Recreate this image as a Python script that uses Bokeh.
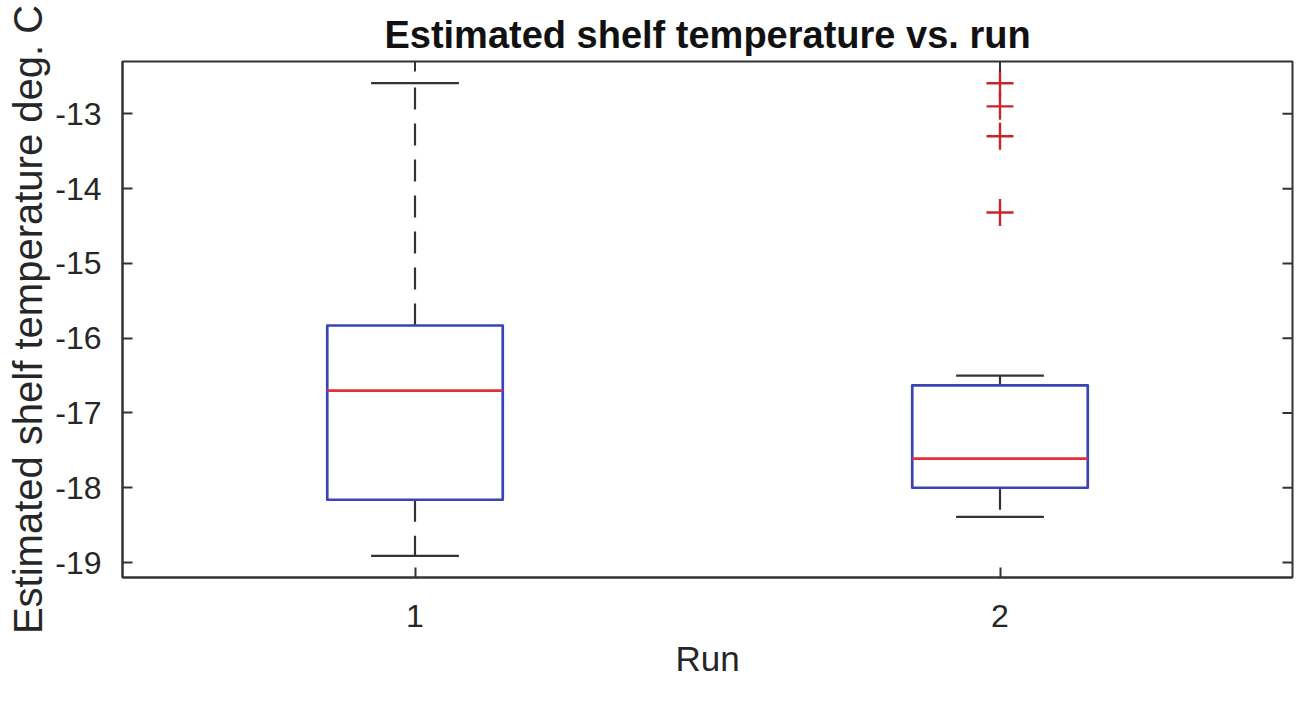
import numpy as np
from bokeh.plotting import figure
from bokeh.models import FixedTicker, ColumnDataSource, PrintfTickFormatter
from bokeh.embed import file_html
from bokeh.resources import INLINE

# Box statistics (deg. C)
runs = [1, 2]
q1 = [-18.16, -18.00]
medians = [-16.70, -17.61]
q3 = [-15.83, -16.63]
whisker_low = [-18.91, -18.39]
whisker_high = [-12.59, -16.50]

outlier_runs = [2, 2, 2, 2]
outlier_vals = [-12.59, -12.90, -13.30, -14.32]

y_ticks = [-19, -18, -17, -16, -15, -14, -13]

X_LIM = (0.5, 2.5)
Y_LIM = (-19.2, -12.3)
BOX_HALF = 0.15
CAP_HALF = 0.075
FONT = "Liberation Sans"
AXIS_COLOR = "#333333"
TEXT_COLOR = "#262626"

x = np.array(runs, dtype=float)
src = ColumnDataSource(data=dict(
    x=x, left=x - BOX_HALF, right=x + BOX_HALF,
    cap_l=x - CAP_HALF, cap_r=x + CAP_HALF,
    q1=q1, q3=q3, med=medians, lo=whisker_low, hi=whisker_high,
))

p = figure(frame_width=1170, frame_height=516, x_range=X_LIM, y_range=Y_LIM,
           output_backend="svg", toolbar_location=None,
           min_border_left=122, min_border_right=3, min_border_top=61, min_border_bottom=112,
           title="Estimated shelf temperature vs. run",
           x_axis_label="Run", y_axis_label="Estimated shelf temperature deg. C")

p.title.align = "center"
p.title.text_font = FONT
p.title.text_font_size = "38px"
p.title.text_font_style = "bold"
p.title.text_color = "#111111"
p.title.standoff = 12

p.grid.visible = False
p.outline_line_color = AXIS_COLOR
p.outline_line_width = 2
p.background_fill_color = "white"
p.border_fill_color = "white"

# whiskers (dashed) and caps
p.segment("x", "q3", "x", "hi", source=src, line_color=AXIS_COLOR, line_width=2.2, line_dash="22 14")
p.segment("x", "q1", "x", "lo", source=src, line_color=AXIS_COLOR, line_width=2.2, line_dash="22 14")
p.segment("cap_l", "hi", "cap_r", "hi", source=src, line_color=AXIS_COLOR, line_width=2.2)
p.segment("cap_l", "lo", "cap_r", "lo", source=src, line_color=AXIS_COLOR, line_width=2.2)

# boxes and medians
p.quad(left="left", right="right", bottom="q1", top="q3", source=src,
       fill_color=None, line_color="#3a44b8", line_width=2.7, line_join="round")
p.segment("left", "med", "right", "med", source=src, line_color="#e0303c", line_width=2.7)

# outliers
p.scatter(outlier_runs, outlier_vals, marker="cross", size=27,
          line_color="#c8242c", line_width=2.4)

# inward ticks on the top and right edges (half of each dash is clipped by the frame)
p.scatter([X_LIM[1]] * len(y_ticks), y_ticks, marker="dash", size=20,
          line_color=AXIS_COLOR, line_width=2)
p.scatter(runs, [Y_LIM[1]] * len(runs), marker="dash", angle=np.pi / 2, size=20,
          line_color=AXIS_COLOR, line_width=2)

# axes: ticks inside, MATLAB-like box
for ax in (p.xaxis[0], p.yaxis[0]):
    ax.axis_line_color = AXIS_COLOR
    ax.axis_line_width = 2
    ax.major_tick_in = 10
    ax.major_tick_out = 0
    ax.minor_tick_line_color = None
    ax.major_tick_line_color = AXIS_COLOR
    ax.major_tick_line_width = 2
    ax.major_label_text_font = FONT
    ax.major_label_text_font_size = "32px"
    ax.major_label_text_color = TEXT_COLOR
    ax.axis_label_text_font = FONT
    ax.axis_label_text_font_style = "normal"
    ax.axis_label_text_color = TEXT_COLOR
    ax.formatter = PrintfTickFormatter(format="%d")

p.xaxis[0].axis_label_text_font_size = "35px"
p.yaxis[0].axis_label_text_font_size = "40px"
p.xaxis[0].ticker = FixedTicker(ticks=runs)
p.yaxis[0].ticker = FixedTicker(ticks=y_ticks)
p.xaxis[0].major_label_standoff = 27
p.xaxis[0].axis_label_standoff = 9
p.yaxis[0].major_label_standoff = 21
p.yaxis[0].axis_label_standoff = 2

open("out.html", "w").write(file_html(p, INLINE))
